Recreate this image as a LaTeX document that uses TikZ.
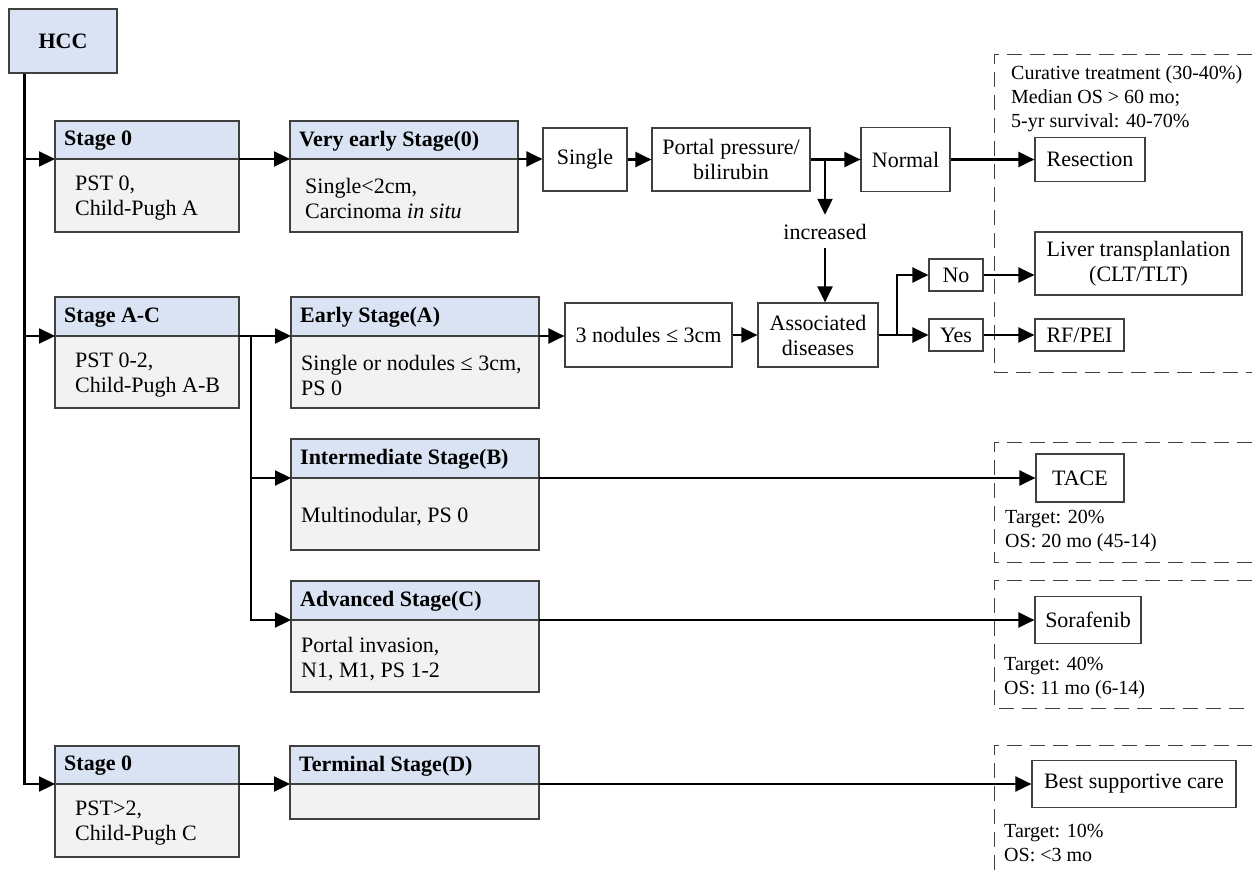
\documentclass[tikz,border=0pt]{standalone}
\usepackage{fontspec}
\setmainfont{Liberation Serif}
\usetikzlibrary{arrows.meta,calc}
\definecolor{hdrblue}{HTML}{DAE3F3}
\definecolor{bodygray}{HTML}{F2F2F2}
\definecolor{edgegray}{HTML}{404040}
\newcommand\mainfs{\fontsize{22}{25}\selectfont}
\newcommand\notefs{\fontsize{20}{24}\selectfont}
% #1 name, #2 x, #3 ytop, #4 width, #5 header h, #6 body h, #7 header, #8 body, #9 body indent
\newcommand\stagebox[9]{%
  \node[hdr, minimum width=#4pt, minimum height=#5pt] (#1h) at (#2,#3) {};
  \node[htext] (#1ht) at ($(#1h.west)+(9,1)$) {#7};
  \node[bdy, minimum width=#4pt, minimum height=#6pt] (#1b) at (#1h.south west) {};
  \node[btext] (#1bt) at ($(#1b.west)+(#9,3)$) {#8};
}
\begin{document}
\begin{tikzpicture}[x=1pt,y=-1pt,
  hdr/.style={draw=edgegray, line width=1.2pt, fill=hdrblue, inner sep=0pt, outer sep=0pt, anchor=north west},
  bdy/.style={draw=edgegray, line width=1.2pt, fill=bodygray, inner sep=0pt, outer sep=0pt, anchor=north west},
  wbox/.style={draw=edgegray, line width=1.2pt, fill=white, inner sep=0pt, align=center, font=\mainfs},
  htext/.style={anchor=west, inner sep=0pt, font=\mainfs\bfseries},
  btext/.style={anchor=west, inner sep=0pt, align=left, font=\mainfs},
  note/.style={anchor=west, inner sep=0pt, align=left, font=\notefs},
  arr/.style={line width=2.2pt, -{Triangle[length=16pt 0 0,width=15pt 0 0]}},
  dbox/.style={draw=edgegray, line width=1pt, dash pattern=on 15pt off 8pt},
]
\useasboundingbox (0,0) rectangle (1252,870);
\clip (0,0) rectangle (1252,870);

% dashed outcome boxes
\draw[dbox] (1275,54) -- (994,54) -- (994,372) -- (1275,372);
\draw[dbox] (1275,442) -- (994,442) -- (994,562) -- (1275,562);
\draw[dbox] (1275,580) -- (994,580) -- (994,708) -- (1275,708);
\draw[dbox] (1275,745) -- (994,745) -- (994,900);

% root
\node[wbox, fill=hdrblue, minimum width=108pt, minimum height=64pt, font=\mainfs\bfseries] (HCC) at (63,41) {HCC};

% stage boxes
\stagebox{sz}{55}{121}{184}{38}{73}{Stage 0}{PST 0,\\Child-Pugh A}{20}
\stagebox{ve}{290}{121}{228}{38}{73}{Very early Stage(0)}{Single<2cm,\\Carcinoma \textit{in situ}}{15}
\stagebox{sac}{55}{297}{184}{39}{72}{Stage A-C}{PST 0-2,\\Child-Pugh A-B}{20}
\stagebox{ea}{291}{297}{248}{39}{72}{Early Stage(A)}{Single or nodules ≤ 3cm,\\PS 0}{10}
\stagebox{im}{291}{439}{248}{39}{72}{Intermediate Stage(B)}{Multinodular, PS 0}{10}
\stagebox{ad}{291}{581}{248}{39}{72}{Advanced Stage(C)}{Portal invasion,\\N1, M1, PS 1-2}{10}
\stagebox{sd}{55}{746}{184}{38}{73}{Stage 0}{PST>2,\\Child-Pugh C}{20}
\stagebox{td}{290}{746}{249}{38}{35}{Terminal Stage(D)}{}{12}

% plain boxes
\node[wbox, minimum width=84pt, minimum height=63pt] (single) at (585,159.5) {Single};
\node[wbox, minimum width=158pt, minimum height=63pt] (portal) at (731,159.5) {Portal pressure/\\bilirubin};
\node[wbox, minimum width=89pt, minimum height=64pt] (normal) at (905.5,159.5) {Normal};
\node[wbox, minimum width=110pt, minimum height=44pt] (resection) at (1090,159.5) {Resection};
\node[inner sep=0pt, minimum height=33pt, font=\mainfs] (incr) at (825,231.5) {increased};
\node[wbox, minimum width=167pt, minimum height=64pt] (nod) at (648.5,335) {3 nodules ≤ 3cm};
\node[wbox, minimum width=120pt, minimum height=64pt] (assoc) at (818,335) {Associated\\diseases};
\node[wbox, minimum width=54pt, minimum height=32pt] (no) at (956,275) {No};
\node[wbox, minimum width=54pt, minimum height=32pt] (yes) at (956,335) {Yes};
\node[wbox, minimum width=207pt, minimum height=63pt] (liver) at (1138.5,263.5) {Liver transplanlation\\(CLT/TLT)};
\node[wbox, minimum width=89pt, minimum height=32pt] (rf) at (1079.5,335) {RF/PEI};
\node[wbox, minimum width=88pt, minimum height=48pt] (tace) at (1080,478) {TACE};
\node[wbox, minimum width=106pt, minimum height=47pt] (sora) at (1088,620) {Sorafenib};
\node[wbox, minimum width=204pt, minimum height=47pt] (bsc) at (1134,784) {Best supportive care};

% notes
\node[note] (n1) at (1011,99) {Curative treatment (30-40\%)\\Median OS > 60 mo;\\5-yr survival: 40-70\%};
\node[note] (n2) at (1005,530.5) {Target: 20\%\\OS: 20 mo (45-14)};
\node[note] (n3) at (1004,678) {Target: 40\%\\OS: 11 mo (6-14)};
\node[note] (n4) at (1004,842.5) {Target: 10\%\\OS: <3 mo};

% connectors
\coordinate (vt) at ($(HCC.south west)+(16,0)$);
\draw[arr] (vt) |- (szh.south west);
\draw[arr] (vt) |- (sach.south west);
\draw[arr] (vt) |- (sdh.south west);

\draw[arr] (szh.south east) -- (veh.south west);
\draw[arr] (veh.south east) -- (veh.south east -| single.west);
\draw[arr] (single) -- (portal);
\draw[arr] (portal) -- (normal);
\draw[arr] (normal) -- (resection);
\draw[arr] (portal.east -| incr.north) -- (incr.north);
\draw[arr] (incr.south) -- (incr.south |- assoc.north);

\coordinate (br2) at ($(sach.south east)+(12,0)$);
\draw[arr] (sach.south east) -- (eah.south west);
\draw[arr] (br2) |- (imh.south west);
\draw[arr] (br2) |- (adh.south west);

\draw[arr] (eah.south east) -- (eah.south east -| nod.west);
\draw[arr] (nod) -- (assoc);
\coordinate (br3) at ($(assoc.east)+(18,0)$);
\draw[arr] (assoc.east) -- (yes.west);
\draw[arr] (br3) |- (no.west);
\draw[arr] (no.east) -- (no.east -| liver.west);
\draw[arr] (yes) -- (rf);

\draw[arr] (imh.south east) -- (imh.south east -| tace.west);
\draw[arr] (adh.south east) -- (adh.south east -| sora.west);
\draw[arr] (sdh.south east) -- (tdh.south west);
\draw[arr] (tdh.south east) -- (tdh.south east -| bsc.west);
\end{tikzpicture}
\end{document}
